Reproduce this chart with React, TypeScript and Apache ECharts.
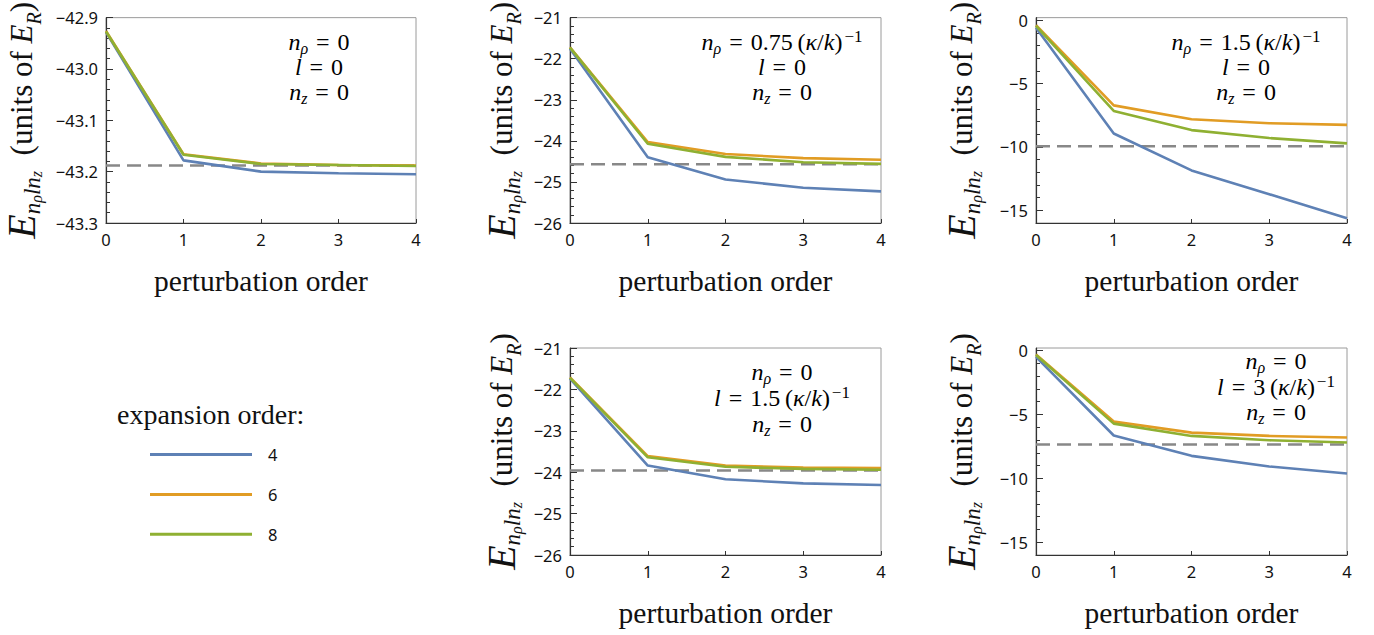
import React, { useEffect, useRef } from "react";
import * as echarts from "echarts";

// ---------------- data ----------------
const perturbationOrders = [0, 1, 2, 3, 4];
const expansionOrders = ["4", "6", "8"];
const seriesColors = ["#5e81b5", "#e19c24", "#8fb032"];

// Panel A: n_rho = 0, l = 0, n_z = 0
const a_order4 = [-42.928, -43.178, -43.2, -43.203, -43.205];
const a_order6 = [-42.926, -43.166, -43.184, -43.187, -43.188];
const a_order8 = [-42.927, -43.167, -43.185, -43.187, -43.189];
const a_exact = -43.188;

// Panel B: n_rho = 0.75 (kappa/k)^-1
const b_order4 = [-21.76, -24.4, -24.94, -25.14, -25.23];
const b_order6 = [-21.72, -24.03, -24.32, -24.42, -24.46];
const b_order8 = [-21.73, -24.07, -24.39, -24.52, -24.56];
const b_exact = -24.57;

// Panel C: n_rho = 1.5 (kappa/k)^-1
const c_order4 = [-0.6, -8.94, -11.85, -13.73, -15.63];
const c_order6 = [-0.4, -6.72, -7.81, -8.13, -8.26];
const c_order8 = [-0.45, -7.16, -8.67, -9.3, -9.72];
const c_exact = -9.95;

// Panel D: l = 1.5 (kappa/k)^-1
const d_order4 = [-21.74, -23.84, -24.17, -24.27, -24.31];
const d_order6 = [-21.71, -23.61, -23.84, -23.89, -23.9];
const d_order8 = [-21.72, -23.64, -23.87, -23.92, -23.94];
const d_exact = -23.96;

// Panel E: l = 3 (kappa/k)^-1
const e_order4 = [-0.5, -6.65, -8.24, -9.07, -9.62];
const e_order6 = [-0.3, -5.56, -6.42, -6.68, -6.81];
const e_order8 = [-0.35, -5.72, -6.68, -7.02, -7.2];
const e_exact = -7.36;

// tick labels
const xTicks = [0, 1, 2, 3, 4];
const yTicksA = [-43.3, -43.2, -43.1, -43.0, -42.9];
const yTicksB = [-26, -25, -24, -23, -22, -21];
const yTicksC = [-15, -10, -5, 0];

// annotation texts (rich-text markup)
const EQ = "\u2004=\u2004";
const annA = [`{i|n}{s|ρ}{r|${EQ}0}`, `{i|l}{r|${EQ}0}`, `{i|n}{s|z}{r|${EQ}0}`];
const annB = [`{i|n}{s|ρ}{r|${EQ}0.75\u2009(}{i|κ}{r|/}{i|k}{r|)}{sup|−1}`, `{i|l}{r|${EQ}0}`, `{i|n}{s|z}{r|${EQ}0}`];
const annC = [`{i|n}{s|ρ}{r|${EQ}1.5\u2009(}{i|κ}{r|/}{i|k}{r|)}{sup|−1}`, `{i|l}{r|${EQ}0}`, `{i|n}{s|z}{r|${EQ}0}`];
const annD = [`{i|n}{s|ρ}{r|${EQ}0}`, `{i|l}{r|${EQ}1.5\u2009(}{i|κ}{r|/}{i|k}{r|)}{sup|−1}`, `{i|n}{s|z}{r|${EQ}0}`];
const annE = [`{i|n}{s|ρ}{r|${EQ}0}`, `{i|l}{r|${EQ}3\u2009(}{i|κ}{r|/}{i|k}{r|)}{sup|−1}`, `{i|n}{s|z}{r|${EQ}0}`];

const xName = "perturbation order";
const yName = "{E|E}{s|n}{ss|ρ}{s|ln}{ss|z}{t|  (units of }{E2|E}{s2|R}{t|)}";
const legendTitle = "expansion order:";

// ---------------- styles / layout ----------------
const SERIF = '"Liberation Serif", "Times New Roman", serif';
const SANS = '"Noto Sans", "DejaVu Sans", sans-serif';
const INK = "#111";

const yRich = {
  E: { fontFamily: SERIF, fontStyle: "italic", fontSize: 40, lineHeight: 46, color: INK },
  s: { fontFamily: SERIF, fontStyle: "italic", fontSize: 23, lineHeight: 24, verticalAlign: "bottom", color: INK },
  ss: { fontFamily: SERIF, fontStyle: "italic", fontSize: 16, lineHeight: 10, verticalAlign: "bottom", color: INK },
  t: { fontFamily: SERIF, fontSize: 31, lineHeight: 46, color: INK },
  E2: { fontFamily: SERIF, fontStyle: "italic", fontSize: 31, lineHeight: 46, color: INK },
  s2: { fontFamily: SERIF, fontStyle: "italic", fontSize: 20, lineHeight: 27, verticalAlign: "bottom", color: INK },
};

const annRich = {
  i: { fontFamily: SERIF, fontStyle: "italic", fontSize: 24, lineHeight: 28, color: INK },
  r: { fontFamily: SERIF, fontSize: 24, lineHeight: 28, color: INK },
  s: { fontFamily: SERIF, fontStyle: "italic", fontSize: 16, lineHeight: 11, verticalAlign: "bottom", color: INK },
  sup: { fontFamily: SERIF, fontSize: 17, lineHeight: 12, verticalAlign: "top", color: INK, padding: [0, 0, 0, 2] },
};

type Panel = {
  left: number; top: number; width: number; height: number;
  yMin: number; yMax: number; majors: number[]; minorStep: number; dec: number; nameGap: number;
  o4: number[]; o6: number[]; o8: number[]; exact: number;
  ann: string[]; annX: number; annY: number[];
};

const panels: Panel[] = [
  { left: 106, top: 16, width: 310, height: 207, yMin: -43.3, yMax: -42.9, majors: yTicksA, minorStep: 0.02, dec: 1, nameGap: 62,
    o4: a_order4, o6: a_order6, o8: a_order8, exact: a_exact, ann: annA, annX: 319, annY: [42, 67, 92] },
  { left: 570, top: 16, width: 311, height: 207, yMin: -26, yMax: -21, majors: yTicksB, minorStep: 0.2, dec: 0, nameGap: 46,
    o4: b_order4, o6: b_order6, o8: b_order8, exact: b_exact, ann: annB, annX: 782, annY: [42, 67, 92] },
  { left: 1036, top: 16, width: 311, height: 207, yMin: -16, yMax: 0.2, majors: yTicksC, minorStep: 1, dec: 0, nameGap: 52,
    o4: c_order4, o6: c_order6, o8: c_order8, exact: c_exact, ann: annC, annX: 1246, annY: [42, 67, 92] },
  { left: 570, top: 348, width: 311, height: 207, yMin: -26, yMax: -21, majors: yTicksB, minorStep: 0.2, dec: 0, nameGap: 46,
    o4: d_order4, o6: d_order6, o8: d_order8, exact: d_exact, ann: annD, annX: 782, annY: [372, 398, 424] },
  { left: 1036, top: 348, width: 311, height: 207, yMin: -16, yMax: 0.2, majors: yTicksC, minorStep: 1, dec: 0, nameGap: 52,
    o4: e_order4, o6: e_order6, o8: e_order8, exact: e_exact, ann: annE, annX: 1276, annY: [361, 387, 412] },
];

function fmt(v: number, dec: number) {
  return Number(v).toFixed(dec).replace("-", "\u2212");
}

function minorValues(min: number, max: number, step: number, majors: number[]) {
  const out: number[] = [];
  const start = Math.ceil(min / step - 1e-9);
  for (let k = start; k * step <= max + 1e-9; k++) {
    const v = Math.round(k * step * 1e6) / 1e6;
    if (!majors.some((m) => Math.abs(m - v) < 1e-6)) out.push(v);
  }
  return out;
}

function buildOption() {
  const grid: any[] = [];
  const xAxis: any[] = [];
  const yAxis: any[] = [];
  const series: any[] = [];
  const graphic: any[] = [];

  panels.forEach((p, i) => {
    grid.push({
      left: p.left, top: p.top, width: p.width, height: p.height,
      show: true, borderColor: "#9a9a9a", borderWidth: 1, backgroundColor: "transparent",
    });
    xAxis.push({
      type: "value", gridIndex: i, min: 0, max: 4, interval: 1, position: "bottom",
      axisLine: { show: true, onZero: false, lineStyle: { color: "#333", width: 1.2 } },
      axisTick: { show: true, inside: true, length: 4, customValues: xTicks, lineStyle: { color: "#333" } },
      axisLabel: { customValues: xTicks, fontFamily: SANS, fontSize: 16.5, color: "#111", margin: 8 },
      splitLine: { show: false },
      name: xName, nameLocation: "middle", nameGap: 43,
      nameTextStyle: { fontFamily: SERIF, fontSize: 29.5, color: INK },
    });
    const mainY = yAxis.length;
    yAxis.push({
      type: "value", gridIndex: i, min: p.yMin, max: p.yMax, position: "left",
      axisLine: { show: true, onZero: false, lineStyle: { color: "#333", width: 1.2 } },
      axisTick: { show: true, inside: true, length: 7, customValues: p.majors, lineStyle: { color: "#333" } },
      axisLabel: {
        customValues: p.majors, fontFamily: SANS, fontSize: 16.5, color: "#111", margin: 8,
        formatter: (v: number) => fmt(v, p.dec),
      },
      splitLine: { show: false },
      name: yName, nameLocation: "middle", nameRotate: 90, nameGap: p.nameGap,
      nameTextStyle: { rich: yRich, fontFamily: SERIF, fontSize: 31, color: INK },
    });
    yAxis.push({
      type: "value", gridIndex: i, min: p.yMin, max: p.yMax, position: "left",
      axisLine: { show: false },
      axisTick: { show: true, inside: true, length: 4, customValues: minorValues(p.yMin, p.yMax, p.minorStep, p.majors), lineStyle: { color: "#333" } },
      axisLabel: { show: false },
      splitLine: { show: false },
    });

    series.push({
      type: "line", name: "exact", xAxisIndex: i, yAxisIndex: mainY,
      data: [[perturbationOrders[0], p.exact], [perturbationOrders[perturbationOrders.length - 1], p.exact]],
      symbol: "none", showSymbol: false, silent: true,
      lineStyle: { color: "#888888", width: 2.5, type: [14, 7] },
    });
    [p.o4, p.o6, p.o8].forEach((vals, k) => {
      series.push({
        type: "line", name: expansionOrders[k], xAxisIndex: i, yAxisIndex: mainY,
        data: perturbationOrders.map((x, j) => [x, vals[j]]),
        symbol: "none", showSymbol: false,
        color: seriesColors[k],
        lineStyle: { color: seriesColors[k], width: 2.6 },
      });
    });

    p.ann.forEach((t, j) => {
      graphic.push({
        type: "text", x: p.annX, y: p.annY[j], silent: true,
        style: { text: t, rich: annRich, align: "center", verticalAlign: "middle", textAlign: "center", textVerticalAlign: "middle" },
      });
    });
  });

  graphic.push({
    type: "text", x: 117, y: 414, silent: true,
    style: {
      text: legendTitle, fontFamily: SERIF, fontSize: 28, fill: INK,
      align: "left", verticalAlign: "middle", textAlign: "left", textVerticalAlign: "middle",
    },
  });

  return {
    animation: false,
    backgroundColor: "#ffffff",
    grid, xAxis, yAxis, series, graphic,
    legend: {
      data: expansionOrders,
      orient: "vertical",
      left: 145, top: 441,
      icon: "rect",
      itemWidth: 102, itemHeight: 3, itemGap: 22.9,
      selectedMode: false,
      textStyle: { fontFamily: SANS, fontSize: 16.5, color: "#111", padding: [0, 0, 0, 11], lineHeight: 16 },
    },
  };
}

export default function App() {
  const ref = useRef<HTMLDivElement>(null);
  useEffect(() => {
    if (!ref.current) return;
    const chart = echarts.init(ref.current, undefined, { renderer: "svg" });
    chart.setOption(buildOption() as any);
    return () => chart.dispose();
  }, []);
  return (
    <div
      ref={ref}
      style={{ position: "fixed", left: 0, top: 0, width: 1374, height: 635, background: "#fff" }}
    />
  );
}
